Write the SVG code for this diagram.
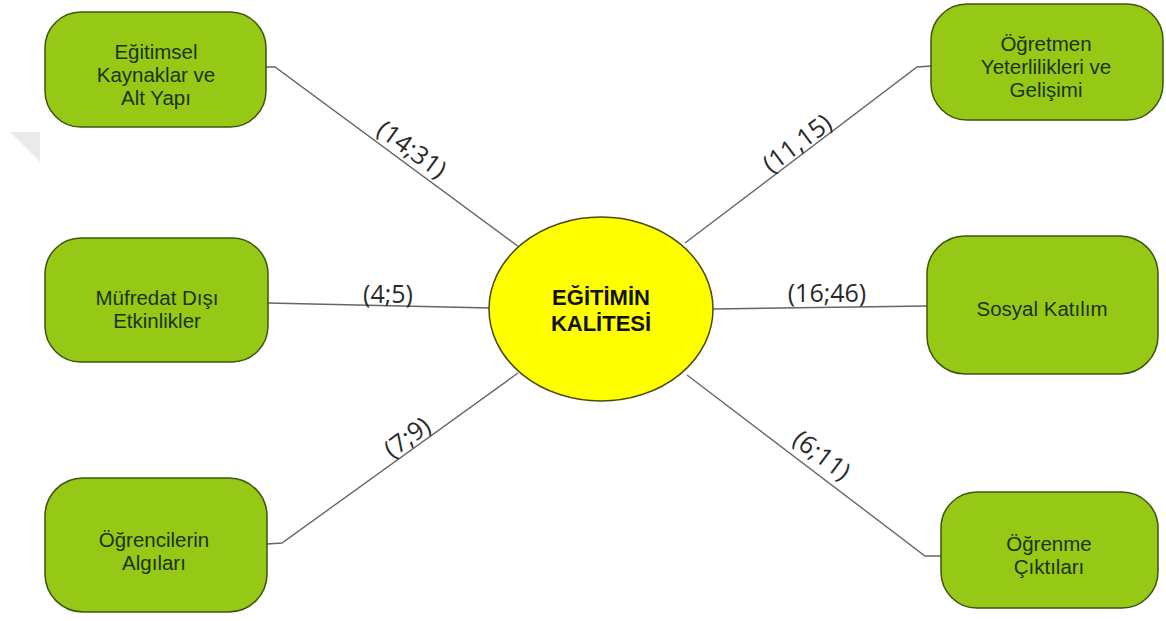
<svg xmlns="http://www.w3.org/2000/svg" width="1166" height="621" viewBox="0 0 1166 621">
<style>
.node{fill:#96c915;stroke:#3f5410;stroke-width:1.5}
.nt{font-family:"Liberation Sans",Arial,sans-serif;font-size:20.5px;fill:#1c3210;text-anchor:middle}
.core{fill:#ffff00;stroke:#4a4a10;stroke-width:1.5}
.ct{font-family:"Liberation Sans",Arial,sans-serif;font-size:22px;font-weight:bold;fill:#111;text-anchor:middle}
.ln{fill:none;stroke:#666;stroke-width:1.4}
.lb{font-family:"Open Sans","DejaVu Sans",sans-serif;font-size:25px;fill:#2a2a2a;text-anchor:middle}
</style>
<rect width="1166" height="621" fill="#fff"/>
<polygon points="10,132 40,132 40,162" fill="#ebebeb"/>
<g id="connectors">
<polyline class="ln" points="266,67 275,67 519,247"/>
<polyline class="ln" points="268,303 490,308"/>
<polyline class="ln" points="267,544 282,543 518,373"/>
<polyline class="ln" points="931,66 917,67 685,243"/>
<polyline class="ln" points="713,309 927,306"/>
<polyline class="ln" points="687,375 925,556 941,556"/>
<g transform="translate(412,149) rotate(36)"><text class="lb" x="0" y="9">(14;31)</text></g>
<text class="lb" x="388" y="303">(4;5)</text>
<g transform="translate(407,437) rotate(-36)"><text class="lb" x="0" y="9">(7;9)</text></g>
<g transform="translate(797,143) rotate(-37)"><text class="lb" x="0" y="9">(11,15)</text></g>
<text class="lb" x="827" y="302">(16;46)</text>
<g transform="translate(822,455) rotate(37)"><text class="lb" x="0" y="9">(6;11)</text></g>
</g>
<g id="center">
<ellipse class="core" cx="601" cy="309" rx="112" ry="92"/>
<text class="ct" x="601" y="305">EĞİTİMİN</text>
<text class="ct" x="601" y="331">KALİTESİ</text>
</g>
<g id="node-kaynaklar">
<rect class="node" x="45" y="12" width="221" height="115" rx="36" ry="36"/>
<text class="nt"><tspan x="156" y="59">Eğitimsel</tspan><tspan x="156" y="82">Kaynaklar ve</tspan><tspan x="156" y="105">Alt Yapı</tspan></text>
</g>
<g id="node-mufredat">
<rect class="node" x="45" y="238" width="223" height="124" rx="36" ry="36"/>
<text class="nt"><tspan x="157" y="305">Müfredat Dışı</tspan><tspan x="157" y="328">Etkinlikler</tspan></text>
</g>
<g id="node-ogrenciler">
<rect class="node" x="45" y="478" width="222" height="134" rx="38" ry="38"/>
<text class="nt"><tspan x="154" y="547">Öğrencilerin</tspan><tspan x="154" y="570">Algıları</tspan></text>
</g>
<g id="node-ogretmen">
<rect class="node" x="931" y="4" width="232" height="116" rx="36" ry="36"/>
<text class="nt"><tspan x="1046" y="51">Öğretmen</tspan><tspan x="1046" y="74">Yeterlilikleri ve</tspan><tspan x="1046" y="97">Gelişimi</tspan></text>
</g>
<g id="node-sosyal">
<rect class="node" x="927" y="236" width="231" height="138" rx="38" ry="38"/>
<text class="nt"><tspan x="1042" y="316">Sosyal Katılım</tspan></text>
</g>
<g id="node-ogrenme">
<rect class="node" x="941" y="492" width="217" height="116" rx="36" ry="36"/>
<text class="nt"><tspan x="1049" y="551">Öğrenme</tspan><tspan x="1049" y="574">Çıktıları</tspan></text>
</g>
</svg>
